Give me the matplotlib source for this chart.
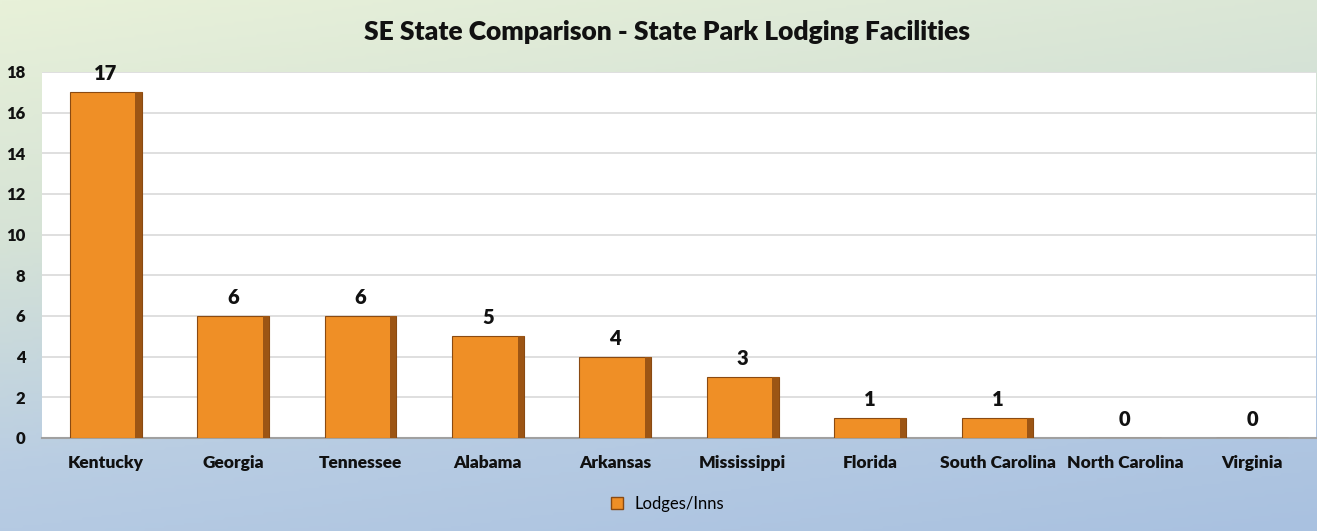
import numpy as np
import matplotlib
matplotlib.use("Agg")
import matplotlib.pyplot as plt
from matplotlib.colors import LinearSegmentedColormap
from matplotlib.lines import Line2D

states = ["Kentucky", "Georgia", "Tennessee", "Alabama", "Arkansas",
          "Mississippi", "Florida", "South Carolina", "North Carolina", "Virginia"]
lodges = [17, 6, 6, 5, 4, 3, 1, 1, 0, 0]
y_ticks = [0, 2, 4, 6, 8, 10, 12, 14, 16, 18]
title = "SE State Comparison - State Park Lodging Facilities"
series_name = "Lodges/Inns"

plt.rcParams['font.family'] = ['Lato', 'DejaVu Sans']

fig = plt.figure(figsize=(13.17, 5.31), dpi=100)

# background gradient
bg = fig.add_axes([0, 0, 1, 1], zorder=-10)
h, w = 200, 400
yy, xx = np.mgrid[0:1:h*1j, 0:1:w*1j]
t = 0.75 * yy + 0.25 * xx
cmap = LinearSegmentedColormap.from_list("bg", ["#e8f1d9", "#d6e3d6", "#b9cde3", "#a9c1e0"])
bg.imshow(t, cmap=cmap, aspect='auto', extent=[0, 1, 0, 1], origin='upper', vmin=0, vmax=1)
bg.axis('off')

ax = fig.add_axes([42/1317, 1 - 438/531, (1316-42)/1317, (438-72)/531])
ax.set_facecolor('white')
x = np.arange(len(states))
bw = 0.565
ax.bar(x, lodges, width=bw, color='#ef8f26', edgecolor='#8a4a12', linewidth=0.8, zorder=3)
# bevel shading (right edge darker)
ax.bar(x + bw/2 - 0.025, lodges, width=0.05, color='#9c5514', linewidth=0, zorder=4)

for xi, v in zip(x, lodges):
    ax.text(xi, v + 0.45, str(v), ha='center', va='bottom', fontsize=14.5,
            fontweight='heavy', color='#111111')

ax.set_xlim(-0.5, len(states) - 0.5)
ax.set_ylim(0, 18)
ax.set_yticks(y_ticks)
ax.set_yticklabels([str(t) for t in y_ticks], fontsize=12, fontweight='heavy')
ax.set_xticks(x)
ax.set_xticklabels(states, fontsize=12.5, fontweight='heavy')
ax.tick_params(axis='both', length=0, colors='#111111')
ax.tick_params(axis='x', pad=12)
ax.tick_params(axis='y', pad=12)
ax.grid(axis='y', color='#d9d9d9', linewidth=1.2, zorder=0)
for s in ['top', 'right', 'left']:
    ax.spines[s].set_visible(False)
ax.spines['bottom'].set_color('#a0a0a0')
ax.spines['bottom'].set_linewidth(1.5)

fig.text(667/1317, 1 - 32/531, title, ha='center', va='center', fontsize=19,
         fontweight='heavy', color='#111111')

handle = Line2D([], [], marker='s', linestyle='none', markersize=9,
                markerfacecolor='#ef8f26', markeredgecolor='#8a4a12')
fig.legend([handle], [series_name], loc='center', bbox_to_anchor=(662/1317, 1 - 504/531),
           frameon=False, fontsize=12, handletextpad=0.05)

fig.savefig("out.png", dpi=100)
